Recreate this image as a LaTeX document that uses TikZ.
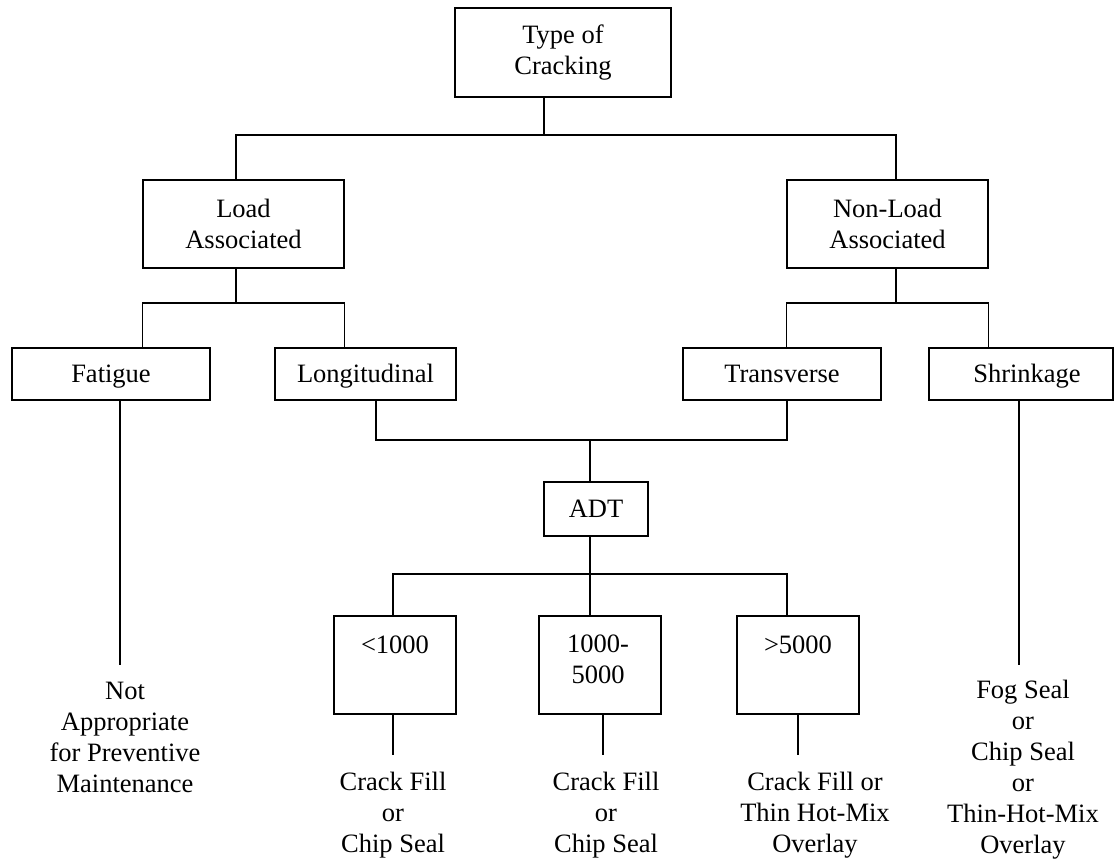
\documentclass[tikz,border=0pt]{standalone}
\usepackage{fontspec}
\setmainfont{Liberation Serif}
\begin{document}
\begin{tikzpicture}[x=1pt,y=-1pt,
  every node/.style={font=\fontsize{26.5}{31}\selectfont, inner sep=0pt},
  box/.style={draw, line width=1.3pt, rectangle, align=center},
  oneline/.style={text height=20pt, text depth=4pt},
  lbl/.style={align=center, anchor=base},
  conn/.style={line width=1.3pt}]
\useasboundingbox (0,0) rectangle (1117,860);
% boxes
\node[box, minimum width=216, minimum height=89] (top) at (563,52.5) {Type of\\Cracking};
\node[box, minimum width=201, minimum height=88] (load) at (243.5,224) {Load\\Associated};
\node[box, minimum width=201, minimum height=88] (nonload) at (887.5,224) {Non-Load\\Associated};
\node[box, oneline, minimum width=198, minimum height=52] (fatigue) at (111,374) {Fatigue};
\node[box, oneline, minimum width=181, minimum height=52] (longi) at (365.5,374) {Longitudinal};
\node[box, oneline, minimum width=198, minimum height=52] (trans) at (782,374) {Transverse};
\node[box, oneline, minimum width=184, minimum height=52] (shrink) at (1021,374) {\hspace*{12pt}Shrinkage};
\node[box, oneline, minimum width=104, minimum height=54] (adt) at (596,509) {ADT};
\node[box, minimum width=122, minimum height=98] (b1) at (395,665) {};
\node[box, minimum width=122, minimum height=98] (b2) at (600,665) {};
\node[box, minimum width=122, minimum height=98] (b3) at (798,665) {};
\node[lbl] (t1) at (395,653) {<1000};
\node[lbl] (t2) at (598,683) {1000-\\5000};
\node[lbl] (t3) at (798,653) {>5000};
% free texts (anchored at the baseline of their last line)
\node[lbl] (tNot) at (125,792) {Not\\Appropriate\\for Preventive\\Maintenance};
\node[lbl] (tC1) at (393,852) {Crack Fill\\or\\Chip Seal};
\node[lbl] (tC2) at (606,852) {Crack Fill\\or\\Chip Seal};
\node[lbl] (tC3) at (815,852) {Crack Fill or\\Thin Hot-Mix\\Overlay};
\node[lbl] (tFog) at (1023,853) {Fog Seal\\or\\Chip Seal\\or\\Thin-Hot-Mix\\Overlay};
% connectors
\coordinate (jTop) at (544,135);
\coordinate (jL) at (236,135);
\coordinate (jR) at (896,135);
\draw[conn] (top.south -| jTop) -- (jTop);
\draw[conn] (load.north -| jL) -- (jL) -- (jR) -- (nonload.north -| jR);
\coordinate (jLoad) at (236,303);
\draw[conn] (load.south -| jLoad) -- (jLoad);
\draw[conn] (fatigue.north -| load.west) -- (load.west |- jLoad) -- (load.east |- jLoad) -- (longi.north -| load.east);
\coordinate (jNon) at (896,303);
\draw[conn] (nonload.south -| jNon) -- (jNon);
\draw[conn] (trans.north -| nonload.west) -- (nonload.west |- jNon) -- (nonload.east |- jNon) -- (shrink.north -| nonload.east);
\coordinate (mL) at (376,440);
\coordinate (mR) at (787,440);
\coordinate (jMid) at (590,440);
\draw[conn] (longi.south -| mL) -- (mL) -- (mR) -- (trans.south -| mR);
\draw[conn] (jMid) -- (adt.north -| jMid);
\coordinate (aJ) at (590,574);
\coordinate (aL) at (393,574);
\coordinate (aR) at (787,574);
\draw[conn] (adt.south -| aJ) -- (aJ);
\draw[conn] (b1.north -| aL) -- (aL) -- (aR) -- (b3.north -| aR);
\draw[conn] (aJ) -- (b2.north -| aJ);
\coordinate (e1) at (393,755);
\coordinate (e2) at (603,755);
\coordinate (e3) at (798,755);
\draw[conn] (b1.south -| e1) -- (e1);
\draw[conn] (b2.south -| e2) -- (e2);
\draw[conn] (b3.south -| e3) -- (e3);
\coordinate (eF) at (120,665);
\coordinate (eS) at (1019,665);
\draw[conn] (fatigue.south -| eF) -- (eF);
\draw[conn] (shrink.south -| eS) -- (eS);
\end{tikzpicture}
\end{document}
